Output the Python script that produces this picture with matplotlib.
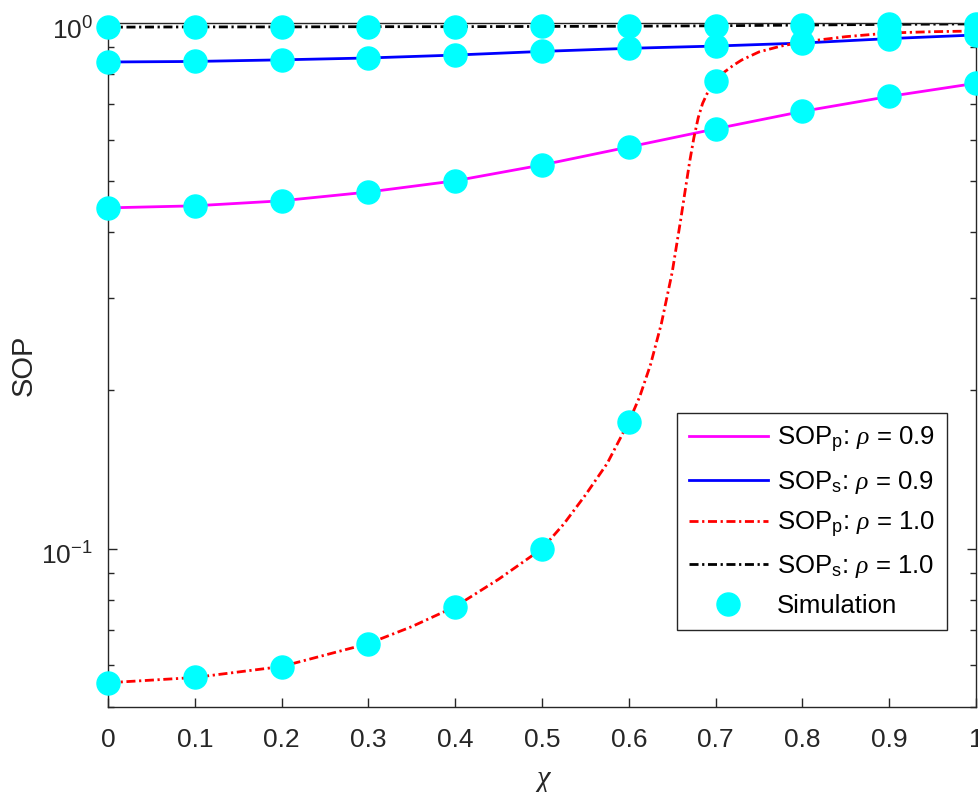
import numpy as np
import matplotlib
matplotlib.use('Agg')
import matplotlib.pyplot as plt
import matplotlib.transforms as mtransforms
from matplotlib.ticker import FixedLocator, FixedFormatter, NullFormatter
from matplotlib.lines import Line2D

plt.rcParams['font.family'] = ['Liberation Sans', 'DejaVu Sans']
plt.rcParams['mathtext.fontset'] = 'custom'
plt.rcParams['mathtext.rm'] = 'Liberation Sans'
plt.rcParams['mathtext.it'] = 'Liberation Serif:italic'
plt.rcParams['mathtext.bf'] = 'Liberation Sans:bold'
plt.rcParams['lines.scale_dashes'] = False

# ---------------- data ----------------
chi = [0.0, 0.1, 0.2, 0.3, 0.4, 0.5, 0.6, 0.7, 0.8, 0.9, 1.0]
sop_p_rho09 = [0.445, 0.449, 0.459, 0.477, 0.501, 0.537, 0.581, 0.629, 0.679, 0.725, 0.768]
sop_s_rho09 = [0.843, 0.845, 0.851, 0.858, 0.869, 0.883, 0.895, 0.904, 0.916, 0.934, 0.949]
sop_p_rho10 = [0.0556, 0.0569, 0.0597, 0.0660, 0.0776, 0.100, 0.1743, 0.7757, 0.9202, 0.9572, 0.9656]
sop_s_rho10 = [0.982, 0.983, 0.983, 0.984, 0.984, 0.985, 0.986, 0.988, 0.991, 0.994, 0.996]

# analytical SOP_p (rho = 1.0) curve at extra chi positions
chi_p10_curve = [0.0, 0.1, 0.2, 0.3, 0.35, 0.4, 0.45, 0.5, 0.525, 0.55, 0.575, 0.6,
                 0.6125, 0.625, 0.6375, 0.65, 0.66, 0.665, 0.67, 0.675, 0.68, 0.685,
                 0.69, 0.7, 0.71, 0.72, 0.73, 0.75, 0.775, 0.8, 0.85, 0.9, 0.95, 1.0]
sop_p10_curve = [0.0556, 0.0569, 0.0597, 0.0660, 0.0711, 0.0776, 0.0875, 0.1000, 0.1114,
                 0.1265, 0.1452, 0.1743, 0.1945, 0.2239, 0.2679, 0.3357, 0.4246, 0.4808,
                 0.5433, 0.6053, 0.6607, 0.7031, 0.7328, 0.7757, 0.8065, 0.8299, 0.8503,
                 0.8810, 0.9036, 0.9202, 0.9419, 0.9572, 0.9627, 0.9656]

x_ticks = [0.0, 0.1, 0.2, 0.3, 0.4, 0.5, 0.6, 0.7, 0.8, 0.9, 1.0]
x_ticklabels = ['0', '0.1', '0.2', '0.3', '0.4', '0.5', '0.6', '0.7', '0.8', '0.9', '1']
y_ticks = [0.1, 1.0]
y_ticklabels = [r'$\mathregular{10^{-1}}$', r'$\mathregular{10^{0}}$']

labels = [r'SOP$_\mathregular{p}$: $\rho$ = 0.9',
          r'SOP$_\mathregular{s}$: $\rho$ = 0.9',
          r'SOP$_\mathregular{p}$: $\rho$ = 1.0',
          r'SOP$_\mathregular{s}$: $\rho$ = 1.0',
          'Simulation']

# ---------------- figure ----------------
W, H = 979, 792
fig = plt.figure(figsize=(W / 100, H / 100), dpi=100)
L, R, T, B = 108, 976, 23, 707
ax = fig.add_axes([L / W, 1 - B / H, (R - L) / W, (B - T) / H])

axc = '#262626'
lw = 2.0
dd = (6.5, 2.6, 1.6, 2.6)

l1, = ax.plot(chi, sop_p_rho09, color='#FF00FF', lw=lw, zorder=2)
l2, = ax.plot(chi, sop_s_rho09, color='#0000FF', lw=lw, zorder=2)
l3, = ax.plot(chi_p10_curve, sop_p10_curve, color='#FF0000', lw=lw, zorder=2)
l3.set_dashes(dd)
l4, = ax.plot(chi, sop_s_rho10, color='black', lw=lw, zorder=2)
l4.set_dashes(dd)

ms = 16.6
for series in (sop_p_rho09, sop_s_rho09, sop_p_rho10, sop_s_rho10):
    ax.plot(chi, series, linestyle='none', marker='o', ms=ms,
            mfc='#00FFFF', mec='#00FFFF', zorder=3, clip_on=False)

ax.set_yscale('log')
ax.set_xlim(0, 1)
ax.set_ylim(0.05, 1.0)

ax.xaxis.set_major_locator(FixedLocator(x_ticks))
ax.xaxis.set_major_formatter(FixedFormatter(x_ticklabels))
ax.yaxis.set_major_locator(FixedLocator(y_ticks))
ax.yaxis.set_major_formatter(FixedFormatter(y_ticklabels))
minor = [0.05, 0.06, 0.07, 0.08, 0.09, 0.2, 0.3, 0.4, 0.5, 0.6, 0.7, 0.8, 0.9]
ax.yaxis.set_minor_locator(FixedLocator(minor))
ax.yaxis.set_minor_formatter(NullFormatter())

for s in ax.spines.values():
    s.set_color(axc)
    s.set_linewidth(1.0)

ax.tick_params(axis='x', which='major', direction='in', length=6.5, width=1.0,
               color=axc, labelcolor=axc, labelsize=19, pad=15, top=True)
ax.tick_params(axis='y', which='major', direction='in', length=6.5, width=1.0,
               color=axc, labelcolor=axc, labelsize=19, pad=11, right=True)
ax.tick_params(axis='y', which='minor', direction='in', length=4.3, width=1.0,
               color=axc, right=True)

fig.text(23.5 / W, 1 - 365 / H, 'SOP', rotation=90, ha='center', va='center',
         fontsize=21, color=axc)
fig.text(543 / W, 1 - 787 / H, r'$\chi$', ha='center', va='baseline',
         fontsize=22, color=axc)

sim_handle = Line2D([], [], linestyle='none', marker='o', ms=ms,
                    mfc='#00FFFF', mec='#00FFFF')
leg = ax.legend([l1, l2, l3, l4, sim_handle], labels,
                loc='upper left', bbox_to_anchor=(677 / W, 1 - 413 / H),
                bbox_transform=fig.transFigure, borderaxespad=0,
                fontsize=18.5, handlelength=3.1, handletextpad=0.35,
                borderpad=0.45, labelspacing=0.54, fancybox=False,
                framealpha=1, edgecolor=axc)
leg.get_frame().set_linewidth(1.0)
for t in leg.get_texts():
    t.set_color('black')

# MATLAB places the exponent labels slightly lower than the tick
fig.canvas.draw()
off = mtransforms.ScaledTranslation(0, -5 / 100, fig.dpi_scale_trans)
for lab in ax.yaxis.get_majorticklabels():
    lab.set_transform(lab.get_transform() + off)

fig.savefig('out.png', dpi=100)
